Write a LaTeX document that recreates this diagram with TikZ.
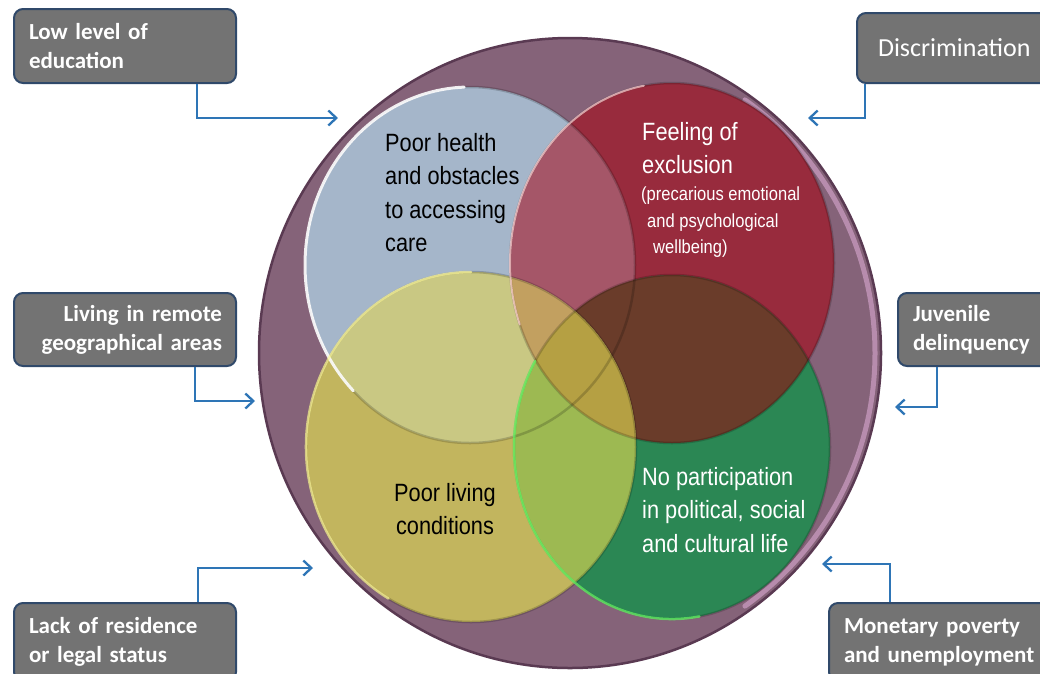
\documentclass[tikz,border=0pt]{standalone}
\usepackage{fontspec}
\setmainfont{Liberation Sans}
\newfontfamily\circfont[FakeStretch=0.87]{Liberation Sans}
\newfontfamily\boxfont{Carlito}
\usetikzlibrary{arrows.meta}
\definecolor{bigc}{HTML}{856379}
\definecolor{bigdark}{HTML}{5A3A52}
\definecolor{rimpink}{HTML}{C497BA}
\definecolor{cblue}{HTML}{A5B6CA}
\definecolor{cred}{HTML}{982B3D}
\definecolor{cyel}{HTML}{C2B55E}
\definecolor{cgreen}{HTML}{2B8754}
\definecolor{cBR}{HTML}{A55668}
\definecolor{cRG}{HTML}{6A3C2A}
\definecolor{cBY}{HTML}{C9C883}
\definecolor{cYG}{HTML}{9DB952}
\definecolor{cRY}{HTML}{C2A060}
\definecolor{cRYG}{HTML}{B5A043}
\definecolor{boxgray}{HTML}{737373}
\definecolor{boxborder}{HTML}{30496A}
\definecolor{connblue}{HTML}{2E75B6}
\tikzset{
  factor/.style={draw=boxborder, line width=2, fill=boxgray, rounded corners=9,
    text=white, font=\boxfont\bfseries\fontsize{23}{29}\selectfont,
    inner xsep=15, inner ysep=0, anchor=north west, align=left},
  conn/.style={draw=connblue, line width=2.3, -{Straight Barb[length=8pt,width=15pt,line width=2.3pt]}},
  ctext/.style={font=\circfont\fontsize{25}{33.5}\selectfont, inner sep=0, anchor=north west, align=left},
  csmall/.style={font=\circfont\fontsize{19}{26.5}\selectfont, inner sep=0, anchor=north west, align=left},
}
\begin{document}
\begin{tikzpicture}[x=1pt,y=-1pt]
\clip (0,0) rectangle (1040,673);
\fill[white] (0,0) rectangle (1040,673);

% outer circle
\fill[bigc] (570,353) ellipse [x radius=311, y radius=315];
\draw[rimpink, line width=5, line cap=round, opacity=0.8] (570,353) ++(-55:305 and 309) arc [start angle=-55, end angle=55, x radius=305, y radius=309];
\draw[bigdark, line width=2.5] (570,353) ellipse [x radius=311, y radius=315];

% base circles
\fill[cblue] (470,265) ellipse [x radius=165, y radius=178];
\fill[cred] (672,263) ellipse [x radius=162, y radius=180];
\fill[cyel] (471,447) ellipse [x radius=165, y radius=175];
\fill[cgreen] (672,447) ellipse [x radius=158, y radius=172];

% overlaps
\begin{scope}
  \clip (470,265) ellipse [x radius=165, y radius=178];
  \fill[cBR] (672,263) ellipse [x radius=162, y radius=180];
\end{scope}
\begin{scope}
  \clip (672,263) ellipse [x radius=162, y radius=180];
  \fill[cRG] (672,447) ellipse [x radius=158, y radius=172];
\end{scope}
\begin{scope}
  \clip (470,265) ellipse [x radius=165, y radius=178];
  \fill[cBY] (471,447) ellipse [x radius=165, y radius=175];
\end{scope}
\begin{scope}
  \clip (471,447) ellipse [x radius=165, y radius=175];
  \fill[cYG] (672,447) ellipse [x radius=158, y radius=172];
\end{scope}
\begin{scope}
  \clip (672,263) ellipse [x radius=162, y radius=180];
  \fill[cRY] (471,447) ellipse [x radius=165, y radius=175];
\end{scope}
\begin{scope}
  \clip (672,263) ellipse [x radius=162, y radius=180];
  \clip (471,447) ellipse [x radius=165, y radius=175];
  \fill[cRYG] (672,447) ellipse [x radius=158, y radius=172];
\end{scope}

% faint outlines
\draw[black, opacity=0.18, line width=2.5] (470,265) ellipse [x radius=165, y radius=178];
\draw[black, opacity=0.18, line width=2.5] (672,263) ellipse [x radius=162, y radius=180];
\draw[black, opacity=0.18, line width=2.5] (471,447) ellipse [x radius=165, y radius=175];
\draw[black, opacity=0.18, line width=2.5] (672,447) ellipse [x radius=158, y radius=172];

% highlights
\draw[white, line width=3, opacity=0.9, line cap=round] (470,265) ++(135:165 and 178) arc [start angle=135, end angle=268, x radius=165, y radius=178];
\draw[pink!70!white, line width=2, opacity=0.7, line cap=round] (672,263) ++(160:162 and 180) arc [start angle=160, end angle=260, x radius=162, y radius=180];
\draw[yellow!40!white, line width=2.5, opacity=0.7, line cap=round] (471,447) ++(120:165 and 175) arc [start angle=120, end angle=270, x radius=165, y radius=175];
\draw[green!60!white, line width=2.5, opacity=0.7, line cap=round] (672,447) ++(80:158 and 172) arc [start angle=80, end angle=210, x radius=158, y radius=172];

% circle texts
\node[ctext, text=black] (tB) at (385,133) {Poor health\\and obstacles\\to accessing\\care};
\node[ctext, text=white] (tR) at (642,122) {Feeling of\\exclusion};
\node[csmall, text=white] (tR2) at (641,187) {(precarious emotional\\\hspace*{6pt}and psychological\\\hspace*{12pt}wellbeing)};
\node[ctext, text=black, anchor=north, align=center] (tY) at (445,483) {Poor living\\conditions};
\node[ctext, text=white] (tG) at (642,467) {No participation\\in political, social\\and cultural life};

% factor boxes
\node[factor, text width=192, minimum height=74] (edu) at (13,8) {Low level of\\education};
\node[factor, font=\boxfont\fontsize{26}{30}\selectfont, inner xsep=21, text width=200, minimum height=70] (disc) at (856,12) {Discrimination};
\node[factor, text width=194, minimum height=73, align=right, inner xsep=14] (liv) at (13,292) {Living in remote\\geographical areas};
\node[factor, text width=200, minimum height=73] (juv) at (897,292) {Juvenile\\delinquency};
\node[factor, text width=192, minimum height=78] (lack) at (13,602) {Lack of residence\\or legal status};
\node[factor, text width=220, minimum height=78] (mon) at (828,602) {Monetary poverty\\and unemployment};

% arrow ends
\coordinate (a1) at (338,118);
\coordinate (a2) at (808,118);
\coordinate (a3) at (255,401);
\coordinate (a4) at (895,407);
\coordinate (a5) at (313,568);
\coordinate (a6) at (822,564);

\draw[conn] ([xshift=184]edu.south west) |- (a1);
\draw[conn] ([xshift=9]disc.south west) |- (a2);
\draw[conn] ([xshift=182]liv.south west) |- (a3);
\draw[conn] ([xshift=40]juv.south west) |- (a4);
\draw[conn] ([xshift=185]lack.north west) |- (a5);
\draw[conn] ([xshift=62]mon.north west) |- (a6);
\end{tikzpicture}
\end{document}
